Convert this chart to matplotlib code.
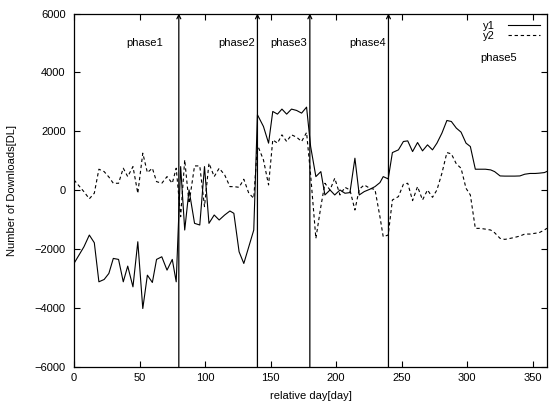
import matplotlib
matplotlib.use("Agg")
import matplotlib.pyplot as plt

plt.rcParams['font.family'] = ['Liberation Sans', 'DejaVu Sans']

days = [0, 7.6, 11.7, 15.5, 19, 23, 26.6, 30, 34, 37.6, 41, 45, 48.7, 52.5, 56, 59.8,
        63, 67, 71, 75, 78, 81.4, 84.5, 87.8, 92, 96, 99.6, 103, 107, 110.8, 115, 119,
        122, 126, 129.6, 133.4, 137.2, 140, 144.6, 148.5, 151.7, 155.3, 158.7, 162.3,
        166, 169.9, 173.7, 177.5, 180.6, 184.6, 188.4, 191.5, 195.4, 199, 203, 206.8,
        210.6, 214.4, 217.7, 221.5, 225.8, 229.7, 233.5, 236, 239.8, 243, 247.6, 251.4,
        254.7, 258.4, 262.2, 266, 269.8, 273.6, 277, 280.8, 284.6, 288, 291.8, 295.4,
        299.2, 302.5, 306.3, 310, 314, 318, 321, 325.2, 328.8, 332.9, 336.4, 340.3,
        344, 348, 352, 355, 359, 361]

y1 = [-2484, -1918, -1521, -1782, -3108, -3029, -2825, -2314, -2348, -3108, -2575, -3279,
      -1748, -4015, -2882, -3131, -2348, -2258, -2711, -2348, -3108, 803, -1350, 10,
      -1123, -1180, 803, -1123, -840, -1010, -840, -704, -783, -2088, -2485, -1918,
      -1350, 2563, 2164, 1599, 2675, 2584, 2755, 2584, 2755, 2709, 2618, 2822, 1484,
      463, 633, -160, 10, -160, 10, -102, -80, 1088, -160, -46, 34, 123, 260, 463, 385,
      1279, 1371, 1655, 1676, 1313, 1620, 1337, 1541, 1371, 1599, 1939, 2368, 2334,
      2109, 1973, 1599, 1484, 714, 714, 714, 691, 633, 486, 480, 480, 480, 486, 544,
      570, 570, 580, 600, 640]

y2 = [350, -50, -290, -100, 714, 633, 450, 237, 237, 748, 463, 803, -102, 1259, 599, 748,
      293, 237, 463, 237, 748, -897, 1030, -443, 826, 826, -556, 918, 463, 748, 520, 123,
      123, 100, 374, -102, -272, 1541, 1030, 180, 1711, 1599, 1881, 1655, 1881, 1802,
      1655, 1960, 520, -1634, -556, 237, 10, 408, -160, 100, 10, -670, 34, 180, 66, 30,
      -900, -1578, -1520, -330, -216, 203, 237, -352, 123, -330, 10, -240, 10, 578,
      1279, 1235, 895, 748, 66, -160, -1294, -1294, -1320, -1350, -1441, -1634, -1668,
      -1634, -1600, -1555, -1487, -1487, -1460, -1441, -1350, -1290]

phase_bounds = [80, 140, 180, 240]
phase_names = ['phase1', 'phase2', 'phase3', 'phase4', 'phase5']
phase_label_x = [40, 110, 150, 210, 310]
phase_label_y = [5000, 5000, 5000, 5000, 4500]

xticks = [0, 50, 100, 150, 200, 250, 300, 350]
yticks = [-6000, -4000, -2000, 0, 2000, 4000, 6000]

fig = plt.figure(figsize=(5.49, 4.03), dpi=100)
ax = fig.add_axes([74/549, 1 - 367/403, 473/549, 353.5/403])

ax.plot(days, y1, color='black', lw=0.8, label='y1')
ax.plot(days, y2, color='black', lw=0.8, linestyle=(0, (3, 2.5)), label='y2')

for xb in phase_bounds:
    ax.annotate('', xy=(xb, 6000), xytext=(xb, -6000),
                arrowprops=dict(arrowstyle='->', lw=0.9, color='black',
                                shrinkA=0, shrinkB=0, mutation_scale=7))

for name, lx, ly in zip(phase_names, phase_label_x, phase_label_y):
    ax.text(lx, ly, name, ha='left', va='center', fontsize=8)

ax.set_xlim(0, 361)
ax.set_ylim(-6000, 6000)
ax.set_xticks(xticks)
ax.set_yticks(yticks)
ax.tick_params(direction='in', top=True, right=True, length=4, width=0.8,
               labelsize=8)
ax.tick_params(axis='x', pad=4)
ax.tick_params(axis='y', pad=6)
for s in ax.spines.values():
    s.set_linewidth(0.9)

ax.set_xlabel('relative day[day]', fontsize=8)
ax.set_ylabel('Number of Downloads[DL]', fontsize=8)
ax.xaxis.set_label_coords(0.5, -0.068)
ax.yaxis.set_label_coords(-0.12, 0.5)

leg = ax.legend(loc='upper right', bbox_to_anchor=(1.0, 1.0), frameon=False,
                markerfirst=False, fontsize=8, handlelength=2.9, handletextpad=1.1,
                labelspacing=0.0, borderpad=0.15)

fig.savefig('out.png', dpi=100)
